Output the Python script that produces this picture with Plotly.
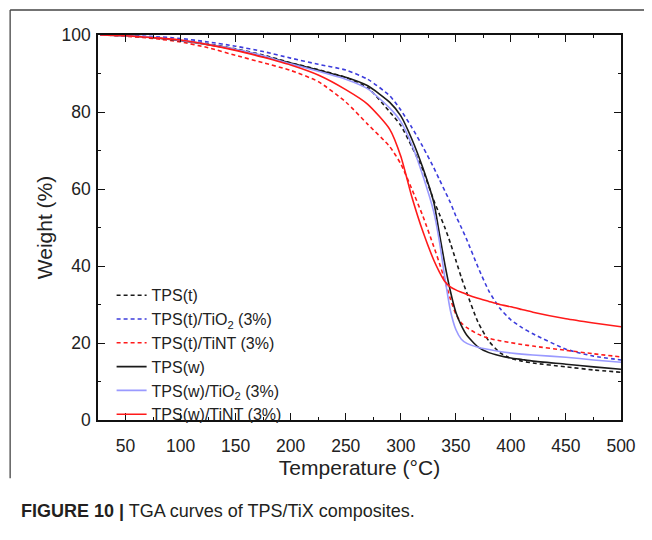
import plotly.graph_objects as go

# Temperature grid (°C)
temperature = [27, 50, 75, 100, 125, 150, 175, 200, 225, 250, 270, 290, 300, 310, 320,
               330, 335, 340, 345, 350, 355, 360, 370, 380, 390, 400, 410, 420, 450, 475, 500]

# Weight (%) series
tps_t = [100, 99.8, 99.3, 98.6, 97.7, 96.4, 94.8, 92.8, 91.0, 89.0, 86.3, 80.0, 76.5, 71.0, 65.0,
         57.0, 53.5, 50.0, 46.0, 41.5, 37.0, 33.0, 25.5, 20.5, 17.5, 16.0, 15.3, 14.8, 13.8, 13.0, 12.4]
tps_t_tio2 = [100, 99.9, 99.6, 99.1, 98.2, 97.1, 95.7, 94.0, 92.4, 90.9, 88.5, 84.2, 80.5, 76.0, 71.0,
              65.5, 62.5, 59.5, 56.5, 53.0, 50.0, 46.8, 39.8, 33.5, 29.0, 26.0, 24.0, 22.4, 18.4, 16.6, 15.6]
tps_t_tint = [100, 99.7, 99.1, 98.2, 96.7, 94.7, 92.8, 90.8, 87.9, 82.6, 76.8, 71.0, 66.5, 60.0, 53.0,
              45.0, 40.8, 36.3, 31.5, 27.5, 25.2, 24.0, 22.3, 21.2, 20.6, 20.1, 19.6, 19.2, 18.1, 17.2, 16.4]
tps_w = [100, 99.8, 99.3, 98.5, 97.5, 96.2, 94.5, 92.7, 90.9, 89.0, 86.8, 82.5, 79.0, 73.0, 65.5,
         56.5, 48.5, 40.5, 33.5, 28.0, 24.5, 22.0, 19.0, 17.5, 16.7, 16.1, 15.7, 15.3, 14.5, 13.8, 13.2]
tps_w_tio2 = [100, 99.8, 99.4, 98.6, 97.6, 96.3, 94.6, 92.5, 90.6, 88.5, 86.0, 81.0, 77.5, 71.5, 63.5,
              54.0, 46.5, 37.0, 28.5, 23.5, 21.0, 19.9, 18.9, 18.3, 17.8, 17.4, 17.1, 16.9, 16.3, 15.6, 15.0]
tps_w_tint = [100, 99.8, 99.3, 98.7, 97.5, 96.0, 94.2, 92.2, 89.6, 85.8, 82.0, 75.5, 68.5, 58.0, 49.0,
              41.5, 38.5, 36.0, 34.6, 33.8, 33.2, 32.6, 31.6, 30.8, 30.0, 29.4, 28.7, 28.0, 26.3, 25.2, 24.2]

series_names = ["TPS(t)", "TPS(t)/TiO<sub>2</sub> (3%)", "TPS(t)/TiNT (3%)",
                "TPS(w)", "TPS(w)/TiO<sub>2</sub> (3%)", "TPS(w)/TiNT (3%)"]
series_values = [tps_t, tps_t_tio2, tps_t_tint, tps_w, tps_w_tio2, tps_w_tint]
series_colors = ["#1a1a1a", "#3c3cdc", "#ff1a1a", "#1a1a1a", "#9a9aff", "#ff1a1a"]
series_dash = ["4px,3px", "4px,3px", "4px,3px", "solid", "solid", "solid"]

x_ticks = [50, 100, 150, 200, 250, 300, 350, 400, 450, 500]
y_ticks = [0, 20, 40, 60, 80, 100]

FONT = "Arial, Liberation Sans, Helvetica, sans-serif"

fig = go.Figure()
for name, vals, col, dash in zip(series_names, series_values, series_colors, series_dash):
    fig.add_trace(go.Scatter(
        x=temperature, y=vals, name=name, mode="lines",
        line=dict(color=col, width=1.6, dash=dash, shape="spline", smoothing=0.6),
    ))

axis_common = dict(
    showline=True, linecolor="#111", linewidth=1.5, mirror="allticks",
    ticks="inside", ticklen=7, tickwidth=1.3, tickcolor="#111",
    showgrid=False, zeroline=False,
    tickfont=dict(family=FONT, size=17.5, color="#222"),
)

fig.update_xaxes(
    range=[25, 500], tickvals=x_ticks, ticklabelstandoff=9,
    minor=dict(dtick=25, tick0=25, ticks="inside", ticklen=3.5, tickwidth=1.2, tickcolor="#111"),
    title=dict(text="Temperature (°C)", font=dict(family=FONT, size=21, color="#222"), standoff=3),
    **axis_common,
)
fig.update_yaxes(
    range=[0, 100], tickvals=y_ticks, ticklabelstandoff=2,
    minor=dict(dtick=10, tick0=0, ticks="inside", ticklen=3.5, tickwidth=1.2, tickcolor="#111"),
    title=dict(text="Weight (%)", font=dict(family=FONT, size=21, color="#222"), standoff=3),
    **axis_common,
)

# figure frame lines (top and left)
fig.add_shape(type="line", xref="paper", yref="paper", x0=-0.168, x1=1.09, y0=1.065, y1=1.065,
              line=dict(color="#444", width=1.3))
fig.add_shape(type="line", xref="paper", yref="paper", x0=-0.168, x1=-0.168, y0=1.065, y1=-0.151,
              line=dict(color="#444", width=1.3))

fig.add_annotation(
    xref="paper", yref="paper", x=-0.151, y=-0.236, xanchor="left", yanchor="middle",
    showarrow=False, align="left",
    text="<b>FIGURE 10 |</b> TGA curves of TPS/TiX composites.",
    font=dict(family=FONT, size=18, color="#231f20"),
)

fig.update_layout(
    width=652, height=540,
    margin=dict(l=90, r=39, t=27, b=128),
    paper_bgcolor="white", plot_bgcolor="white",
    showlegend=True,
    legend=dict(x=0.026, y=0.368, xanchor="left", yanchor="top", bgcolor="rgba(0,0,0,0)",
                font=dict(family=FONT, size=16, color="#222"), tracegroupgap=0),
)

fig.write_html("out.html")
